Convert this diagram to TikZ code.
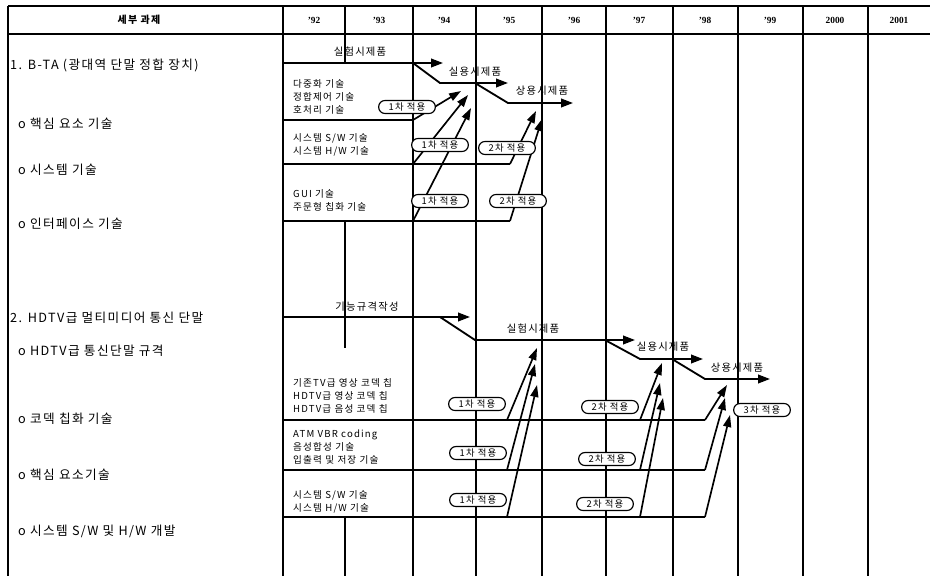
\documentclass[tikz,border=0pt]{standalone}
\usepackage{fontspec}
\setmainfont{Noto Sans CJK KR}
\newfontfamily\krwide[LetterSpace=12]{Noto Sans CJK KR}
\newfontfamily\krtask[LetterSpace=11]{Noto Sans CJK KR}
\newfontfamily\yearfont{Liberation Serif}
\usetikzlibrary{arrows.meta}
\tikzset{
  grid/.style    = {line width=0.4mm},
  rowline/.style = {line width=0.55mm},
  ms/.style      = {line width=0.55mm, -{Triangle[length=3.6mm,width=2.6mm]}},
  ar/.style      = {line width=0.5mm, -{Triangle[length=3.6mm,width=2.4mm]}},
  app/.style     = {draw, line width=0.35mm, rounded corners=1.9mm, fill=white,
                    font=\krwide\fontsize{8}{8}\selectfont, inner sep=1pt,
                    minimum height=3.9mm, minimum width=17mm},
  cell/.style    = {align=left, font=\krwide\fontsize{8.2}{11.2}\selectfont,
                    anchor=west, inner sep=0pt},
  msl/.style     = {font=\krwide\fontsize{8.8}{9}\selectfont, inner sep=1pt},
  task/.style    = {font=\krtask\fontsize{10.8}{11}\selectfont, anchor=west,
                    inner sep=0pt},
  yr/.style      = {font=\yearfont\fontsize{8}{9}\selectfont\bfseries},
}

\begin{document}
\begin{tikzpicture}[x=0.3mm,y=-0.3mm]
\useasboundingbox (0,0) rectangle (930,576);

% table frame
\draw[grid] (8,6) -- (930,6);
\draw[grid] (8,34) -- (930,34);
\foreach \x in {8,283,413,476,542,606,673,738,803,868}
  \draw[grid] (\x,6) -- (\x,576);
\draw[grid] (345,6) -- (345,63);
\draw[grid] (345,221) -- (345,348);
\draw[grid] (345,517) -- (345,576);

% header
\node[font=\krwide\fontsize{8.5}{9}\selectfont\bfseries] (hd) at (139,20) {세부 과제};
\foreach \yname/\x in {{’92}/314,{’93}/379,{’94}/444,{’95}/509,{’96}/574,
                       {’97}/639,{’98}/705,{’99}/770,2000/835,2001/899}
  \node[yr] (y\x) at (\x,20) {\yname};

% task column
\node[task] (t1)  at (10,65)  {1. B-TA (광대역 단말 정합 장치)};
\node[task] (t11) at (18,124) {o 핵심 요소 기술};
\node[task] (t12) at (18,170) {o 시스템 기술};
\node[task] (t13) at (18,224) {o 인터페이스 기술};
\node[task] (t2)  at (10,318) {2. HDTV급 멀티미디어 통신 단말};
\node[task] (t21) at (18,351) {o HDTV급 통신단말 규격};
\node[task] (t22) at (18,419) {o 코덱 칩화 기술};
\node[task] (t23) at (18,475) {o 핵심 요소기술};
\node[task] (t24) at (18,531) {o 시스템 S/W 및 H/W 개발};

% ---- part 1 : B-TA
\coordinate (m10) at (283,63);  \coordinate (m11) at (443,63);
\coordinate (m12) at (413,63);  \coordinate (m13) at (440,83);
\coordinate (m14) at (508,83);
\coordinate (m15) at (475,83);  \coordinate (m16) at (508,103);
\coordinate (m17) at (573,103);
\draw[ms] (m10) -- (m11);
\draw[ms] (m12) -- (m13) -- (m14);
\draw[ms] (m15) -- (m16) -- (m17);
\node[msl] (ml10) at (360,52) {실험시제품};
\node[msl] (ml11) at (475,72) {실용시제품};
\node[msl] (ml12) at (542,91) {상용시제품};

\coordinate (r11w) at (283,120); \coordinate (r11e) at (413,120);
\coordinate (r12w) at (283,164); \coordinate (r12m) at (413,164);
\coordinate (r12e) at (510,164);
\coordinate (r13w) at (283,221); \coordinate (r13m) at (413,221);
\coordinate (r13e) at (510,221);
\draw[rowline] (r11w) -- (r11e);
\draw[rowline] (r12w) -- (r12e);
\draw[rowline] (r13w) -- (r13e);

\coordinate (h11) at (461,91);  \coordinate (h12) at (468,95);
\coordinate (h13) at (471,108);
\coordinate (h22) at (536,111); \coordinate (h23) at (542,119);
\draw[ar] (r11e) -- (h11);
\draw[ar] (r12m) -- (h12);
\draw[ar] (r13m) -- (h13);
\draw[ar] (r12e) -- (h22);
\draw[ar] (r13e) -- (h23);

\node[cell] (c11) at (293,97)  {다중화 기술\\정합제어 기술\\호처리 기술};
\node[cell] (c12) at (293,145) {시스템 S/W 기술\\시스템 H/W 기술};
\node[cell] (c13) at (293,200) {GUI 기술\\주문형 칩화 기술};

\node[app] (a11) at (407,107) {1차 적용};
\node[app] (a12) at (440,145) {1차 적용};
\node[app] (a13) at (440,201) {1차 적용};
\node[app] (b12) at (507,148) {2차 적용};
\node[app] (b13) at (518,201) {2차 적용};

% ---- part 2 : HDTV terminal
\coordinate (n10) at (283,317); \coordinate (n11) at (470,317);
\coordinate (n12) at (440,317); \coordinate (n13) at (475,340);
\coordinate (n14) at (635,340);
\coordinate (n15) at (605,340); \coordinate (n16) at (640,359);
\coordinate (n17) at (703,359);
\coordinate (n18) at (672,359); \coordinate (n19) at (705,379);
\coordinate (n20) at (770,379);
\draw[ms] (n10) -- (n11);
\draw[ms] (n12) -- (n13) -- (n14);
\draw[ms] (n15) -- (n16) -- (n17);
\draw[ms] (n18) -- (n19) -- (n20);
\node[msl] (nl10) at (367,307) {기능규격작성};
\node[msl] (nl11) at (533,329) {실험시제품};
\node[msl] (nl12) at (663,347) {실용시제품};
\node[msl] (nl13) at (737,368) {상용시제품};

\foreach \r/\y in {1/420,2/470,3/517} {
  \coordinate (s\r w) at (283,\y);
  \coordinate (s\r a) at (507,\y);
  \coordinate (s\r b) at (640,\y);
  \coordinate (s\r c) at (705,\y);
  \draw[rowline] (s\r w) -- (s\r c);
}
\coordinate (k11) at (537,348); \coordinate (k12) at (535,364);
\coordinate (k13) at (537,385);
\coordinate (k21) at (662,363); \coordinate (k22) at (660,383);
\coordinate (k23) at (663,398);
\coordinate (k31) at (727,385); \coordinate (k32) at (725,398);
\coordinate (k33) at (730,415);
\draw[ar] (s1a) -- (k11);
\draw[ar] (s2a) -- (k12);
\draw[ar] (s3a) -- (k13);
\draw[ar] (s1b) -- (k21);
\draw[ar] (s2b) -- (k22);
\draw[ar] (s3b) -- (k23);
\draw[ar] (s1c) -- (k31);
\draw[ar] (s2c) -- (k32);
\draw[ar] (s3c) -- (k33);

\node[cell] (c21) at (293,396) {기존TV급 영상 코덱 칩\\HDTV급 영상 코덱 칩\\HDTV급 음성 코덱 칩};
\node[cell] (c22) at (293,447) {ATM VBR coding\\음성합성 기술\\입출력 및 저장 기술};
\node[cell] (c23) at (293,502) {시스템 S/W 기술\\시스템 H/W 기술};

\node[app] (a21) at (477,404) {1차 적용};
\node[app] (a22) at (478,453) {1차 적용};
\node[app] (a23) at (478,500) {1차 적용};
\node[app] (b21) at (610,407) {2차 적용};
\node[app] (b22) at (607,459) {2차 적용};
\node[app] (b23) at (605,504) {2차 적용};
\node[app] (d21) at (762,410) {3차 적용};
\end{tikzpicture}
\end{document}
